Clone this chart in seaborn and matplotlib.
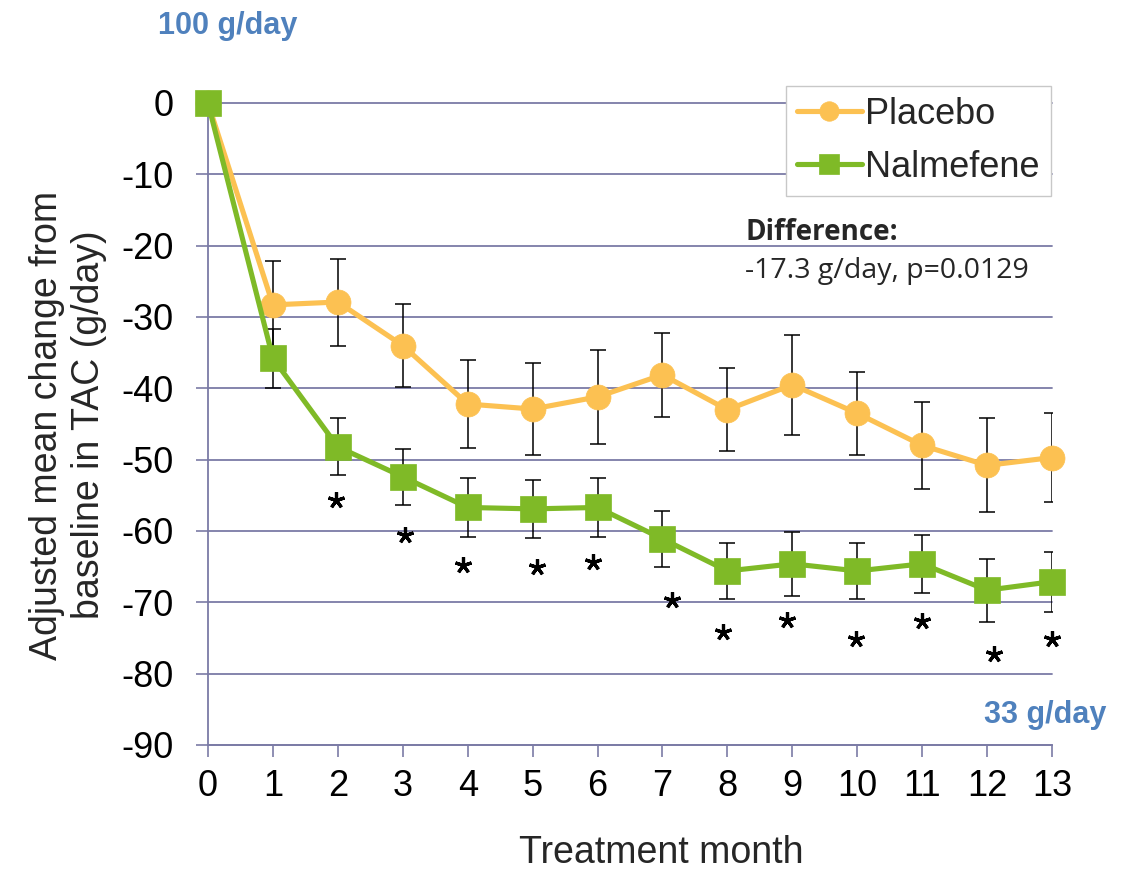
import numpy as np
import pandas as pd
import seaborn as sns
import matplotlib.pyplot as plt

# values
months = list(range(14))
placebo = [0, -28.3, -27.9, -34.0, -42.2, -42.9, -41.2, -38.1, -43.0, -39.5, -43.5, -48.0, -50.8, -49.7]
placebo_se = [0, 6.2, 6.1, 5.8, 6.2, 6.4, 6.6, 5.9, 5.8, 7.0, 5.8, 6.1, 6.6, 6.3]
nalmefene = [0, -35.8, -48.2, -52.4, -56.7, -56.9, -56.7, -61.1, -65.6, -64.6, -65.6, -64.6, -68.3, -67.1]
nalmefene_se = [0, 4.1, 4.0, 3.9, 4.1, 4.1, 4.2, 3.9, 3.9, 4.5, 3.9, 4.1, 4.4, 4.2]

# significance asterisks (month, y position)
star_x = [1.97, 3.04, 3.93, 5.06, 5.93, 7.15, 7.94, 8.92, 9.98, 11.0, 12.1, 13.0]
star_y = [-55.7, -60.6, -64.8, -65.1, -64.3, -69.7, -74.1, -72.5, -75.2, -72.6, -77.3, -75.2]

yticks = list(range(-90, 1, 10))

df = pd.DataFrame({"month": months, "Placebo": placebo, "Nalmefene": nalmefene})

sns.set_theme(style="white")
plt.rcParams['font.family'] = ['Liberation Sans', 'DejaVu Sans']
plt.rcParams['axes.unicode_minus'] = False

orange = "#fcc152"
green = "#7fba27"
gridc = "#7b7ba6"

fig = plt.figure(figsize=(11.24, 8.74), dpi=100)
ax = fig.add_axes([208/1124, 1-745/874, 844/1124, 642/874])

# placebo
ax.errorbar(months[1:], placebo[1:], yerr=placebo_se[1:], fmt='none', ecolor='black',
            elinewidth=1.1, capsize=5.5, capthick=1.1, zorder=2)
sns.lineplot(data=df, x="month", y="Placebo", color=orange, marker='o', markersize=18,
             markeredgecolor=orange, markeredgewidth=0.5, linewidth=3.7, label="Placebo",
             ax=ax, zorder=3)
ax.lines[-1].set_clip_on(False)

# nalmefene
ax.errorbar(months[1:], nalmefene[1:], yerr=nalmefene_se[1:], fmt='none', ecolor='black',
            elinewidth=1.1, capsize=5.5, capthick=1.1, zorder=4)
sns.lineplot(data=df, x="month", y="Nalmefene", color=green, marker='s', markersize=18.5,
             markeredgecolor=green, markeredgewidth=0.5, linewidth=3.7, label="Nalmefene",
             ax=ax, zorder=5)
ax.lines[-1].set_clip_on(False)

ax.plot(star_x, star_y, ls='none', marker=(5, 2, 0), ms=12, mew=2.3, color='black',
        zorder=6, clip_on=False)

ax.set_xlim(0, 13)
ax.set_ylim(-90, 0)
ax.set_xticks(months)
ax.set_yticks(yticks)
ax.set_xlabel("")
ax.set_ylabel("")

ax.yaxis.grid(True, color=gridc, lw=1.3)
ax.xaxis.grid(False)
for gl in ax.get_ygridlines():
    gl.set_clip_on(False)
for s in ["top", "right"]:
    ax.spines[s].set_visible(False)
for s in ["left", "bottom"]:
    ax.spines[s].set_color(gridc)
    ax.spines[s].set_linewidth(1.3)

ax.tick_params(axis='both', bottom=True, left=True, direction='out', length=8.5,
               width=1.2, color=gridc, labelsize=26, labelcolor='black')
ax.tick_params(axis='y', pad=16)
ax.tick_params(axis='x', pad=9)

leg = ax.legend(loc='upper left', bbox_to_anchor=(786/1124, 1-86/874),
                bbox_transform=fig.transFigure, borderaxespad=0, frameon=True,
                fancybox=False, edgecolor='#c8c8c8', framealpha=1, fontsize=26,
                handlelength=1.8, handletextpad=0.1, borderpad=0.3,
                labelspacing=0.5, markerscale=0.78)
leg.get_frame().set_linewidth(1.0)

fig.text(68/1124, 1-425/874, "Adjusted mean change from\nbaseline in TAC (g/day)",
         rotation=90, ha='center', va='center', fontsize=27, linespacing=1.2)
fig.text(661/1124, 1-863/874, "Treatment month", ha='center', va='baseline', fontsize=27)

fig.text(228/1124, 1-34/874, "100 g/day", ha='center', va='baseline', fontsize=22,
         fontweight='bold', color='#4f81bd')
fig.text(1106/1124, 1-723/874, "33 g/day", ha='right', va='baseline', fontsize=22,
         fontweight='bold', color='#4f81bd')

fig.text(746/1124, 1-240/874, "Difference:", ha='left', va='baseline', fontsize=20,
         fontweight='bold', family=['Open Sans', 'DejaVu Sans'])
fig.text(745/1124, 1-278/874, "-17.3 g/day, p=0.0129", ha='left', va='baseline',
         fontsize=20.5, family=['Open Sans', 'DejaVu Sans'])

fig.savefig("out.png", dpi=100)
